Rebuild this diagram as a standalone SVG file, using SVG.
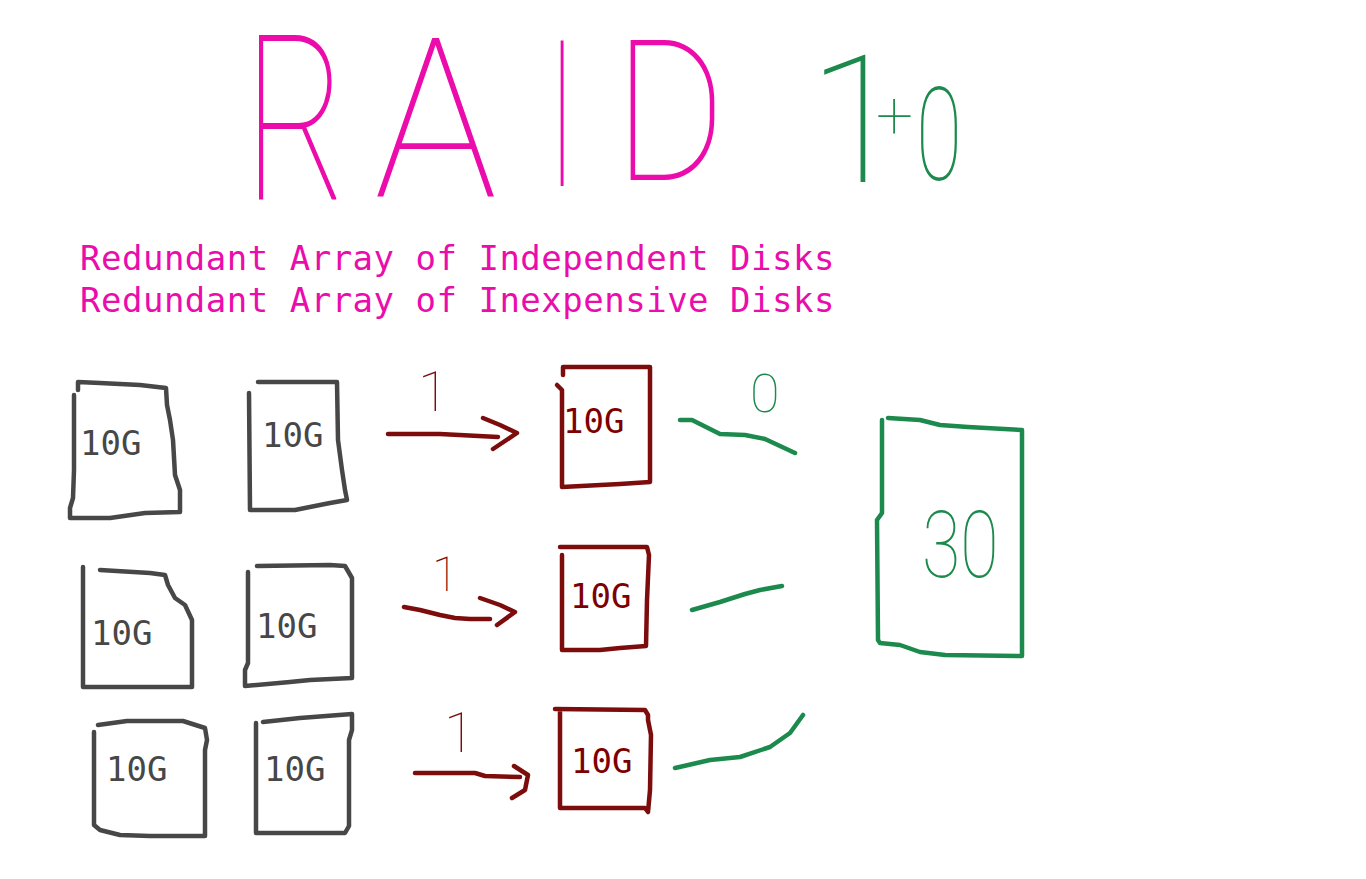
<svg xmlns="http://www.w3.org/2000/svg" width="1366" height="879" viewBox="0 0 1366 879">
<style>
.hand{fill:none;stroke-linecap:round;stroke-linejoin:round;stroke-width:4.5}
.gray{stroke:#474747}
.red{stroke:#7d0c0c}
.green{stroke:#1c8a4c}
.mono{font-family:"DejaVu Sans Mono","Liberation Mono",monospace;font-size:34px}
.gt{fill:#474747}
.rt{fill:#7d0000}
.pink{fill:#ea0cab;font-family:"DejaVu Sans Mono","Liberation Mono",monospace;font-size:34px;letter-spacing:0.5px}
.thin{font-family:Roboto,"DejaVu Sans",sans-serif;font-weight:100}
</style>
<rect width="1366" height="879" fill="#ffffff"/>
<g id="title" class="thin" fill="#ec0cab">
<text transform="translate(244,200) scale(0.68,1)" font-size="232">R</text>
<text transform="translate(374,196) scale(0.93,1)" font-size="222">A</text>
<text transform="translate(548,186) scale(0.53,1)" font-size="204">I</text>
<text transform="translate(614,180) scale(0.87,1)" font-size="196">D</text>
</g>
<g id="level" class="thin" fill="#1c8a4c">
<text x="808" y="182" font-size="178">1<tspan x="876" y="138" font-size="66">+</tspan><tspan x="916" y="180" font-size="130" textLength="46" lengthAdjust="spacingAndGlyphs">0</tspan></text>
</g>
<g id="subtitle" class="pink">
<text x="80" y="270">Redundant Array of Independent Disks</text>
<text x="80" y="312">Redundant Array of Inexpensive Disks</text>
</g>
<g id="disk-a1"><path class="hand gray" d="M74,395 L74,470 L73,498 L70,508 L70,518 L110,518 L145,513 L180,512 L180,490 L175,475 L173,440 L170,420 L167,405 L166,388 L140,385 L100,383 L78,382 L78,390"/><text class="mono gt" x="80" y="455">10G</text></g>
<g id="disk-a2"><path class="hand gray" d="M249,393 L250,510 L295,510 L330,503 L347,500 L345,490 L342,470 L338,440 L337,382 L258,382"/><text class="mono gt" x="262" y="447">10G</text></g>
<g id="disk-b1"><path class="hand gray" d="M83,567 L83,687 L192,687 L192,620 L185,605 L175,598 L168,585 L165,575 L150,573 L100,570"/><text class="mono gt" x="91" y="645">10G</text></g>
<g id="disk-b2"><path class="hand gray" d="M248,572 L248,663 L245,670 L245,686 L290,682 L310,680 L352,678 L352,578 L345,566 L330,565 L257,566"/><text class="mono gt" x="256" y="638">10G</text></g>
<g id="disk-c1"><path class="hand gray" d="M94,732 L94,825 L100,830 L120,835 L150,836 L205,836 L205,750 L207,740 L205,728 L183,721 L127,721 L98,725"/><text class="mono gt" x="106" y="781">10G</text></g>
<g id="disk-c2"><path class="hand gray" d="M256,723 L256,833 L345,833 L349,826 L349,740 L352,730 L352,714 L300,718 L263,722"/><text class="mono gt" x="264" y="781">10G</text></g>
<g id="mirror-1"><path class="hand red" d="M557,385 L562,390 L562,487 L620,484 L650,482 L650,367 L563,367 L563,375"/><text class="mono rt" x="563" y="433">10G</text></g>
<g id="mirror-2"><path class="hand red" d="M562,555 L562,650 L600,650 L620,648 L646,646 L647,600 L649,555 L647,547 L560,547"/><text class="mono rt" x="570" y="608">10G</text></g>
<g id="mirror-3"><path class="hand red" d="M560,712 L560,808 L645,808 L648,812 L650,790 L651,735 L648,720 L648,715 L645,710 L555,709"/><text class="mono rt" x="571" y="773">10G</text></g>
<g id="stripe"><path class="hand green" d="M882,420 L882,513 L877,520 L878,640 L880,643 L900,645 L920,652 L945,655 L1022,656 L1022,430 L968,427 L940,425 L920,420 L888,418"/><text class="thin" fill="#1c8a4c" font-size="92" transform="translate(922,577) scale(0.76,1)">30</text></g>
<g id="connectors">
<path class="hand red" d="M388,434 L440,434 L498,437 M483,418 L500,425 L517,433 L493,449"/>
<path class="hand red" d="M404,607 L420,610 L440,615 L455,618 L470,619 L490,619 M480,598 L500,605 L515,612 L497,625"/>
<path class="hand red" d="M415,773 L475,773 L485,776 L520,777 M514,766 L528,775 L525,790 L512,798"/>
<path class="hand green" d="M680,420 L692,420 L720,434 L745,435 L765,439 L795,453"/>
<path class="hand green" d="M692,610 L720,602 L745,594 L760,590 L782,586"/>
<path class="hand green" d="M675,768 L710,760 L740,757 L770,747 L790,733 L803,715"/>
</g>
<g id="labels" class="thin">
<text fill="#7d0c0c" font-size="56" x="418" y="411">1</text>
<text fill="#7d0c0c" font-size="48" x="432" y="591">1</text>
<text fill="#7d0c0c" font-size="56" x="444" y="752">1</text>
<text fill="#1c8a4c" font-size="54" x="750" y="412">0</text>
</g>
</svg>
